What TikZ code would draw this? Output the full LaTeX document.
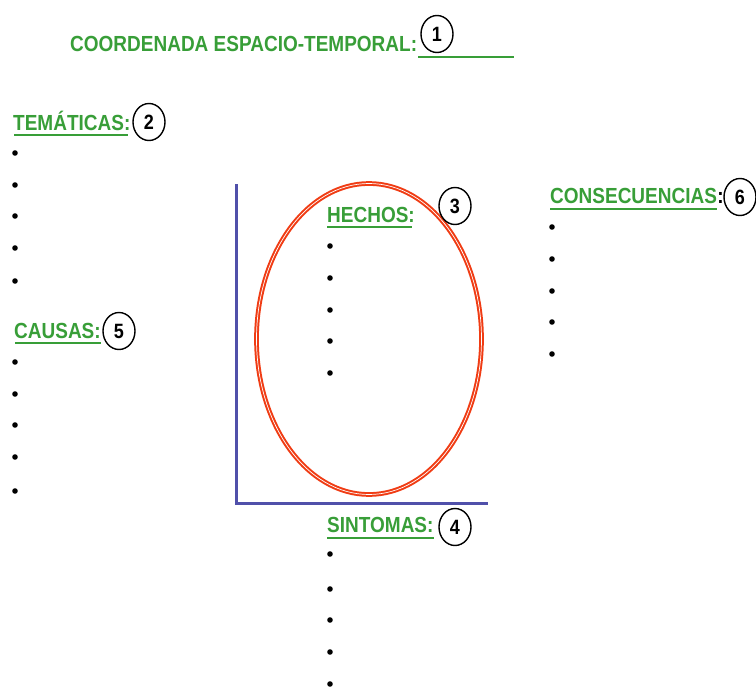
\documentclass[tikz,border=0pt]{standalone}
\usepackage{fontspec}
\setmainfont{Liberation Sans}
\usetikzlibrary{shapes.geometric}
\definecolor{tgreen}{RGB}{56,158,56}
\definecolor{axisblue}{RGB}{80,80,170}
\definecolor{ered}{RGB}{240,60,20}
\newcommand{\tallbox}[1]{\scalebox{1}[1.15]{#1}}
\begin{document}
\begin{tikzpicture}[x=1pt,y=-1pt,
 lbl/.style={font=\fontsize{19}{22}\selectfont\bfseries, text=tgreen, inner sep=0pt, anchor=base west},
 num/.style={draw, ellipse, line width=1.4pt, minimum width=32pt, minimum height=37pt, inner sep=0pt, font=\fontsize{18}{20}\selectfont\bfseries},
 uline/.style={tgreen, line width=2.2pt},
 bul/.style={fill=black}]
\useasboundingbox (0,0) rectangle (756,688);

% axes
\coordinate (ytop) at (236,184);
\coordinate (origin) at (236,503);
\coordinate (xend) at (488,503);
\draw[axisblue, line width=3pt] (ytop) -- (origin) -- (xend);

% ellipse
\draw[ered, line width=2pt, double=white, double distance=0.7pt] (369,339) ellipse [x radius=112.5pt, y radius=155.5pt];

% title
\node[lbl] (title) at (70,52) {\tallbox{COORDENADA ESPACIO-TEMPORAL:}};
\coordinate (fillL) at (418,57);
\coordinate (fillR) at (514,57);
\draw[uline] (fillL) -- (fillR);
\node[num] (n1) at (437,34) {\tallbox{1}};

% tematicas
\node[lbl] (tem) at (13,130) {\tallbox{TEMÁTICAS:}};
\draw[uline] ([yshift=-5pt,xshift=1pt]tem.base west) -- ([yshift=-5pt,xshift=-3pt]tem.base east);
\node[num] (n2) at (149,122) {\tallbox{2}};
\foreach \y in {153,185,216,248,281} \fill[bul] (15,\y) circle (2.8pt);

% causas
\node[lbl] (cau) at (14,338) {\tallbox{CAUSAS:}};
\draw[uline] ([yshift=-5pt,xshift=1pt]cau.base west) -- ([yshift=-5pt]cau.base east);
\node[num] (n5) at (119,331) {\tallbox{5}};
\foreach \y in {362,394,425,457,491} \fill[bul] (15,\y) circle (2.8pt);

% hechos
\node[lbl] (hec) at (327,222) {\tallbox{HECHOS:}};
\draw[uline] ([yshift=-5pt]hec.base west) -- ([yshift=-5pt,xshift=-3pt]hec.base east);
\node[num] (n3) at (455,206) {\tallbox{3}};
\foreach \y in {246,278,310,341,373} \fill[bul] (330,\y) circle (2.8pt);

% sintomas
\node[lbl] (sin) at (327,532) {\tallbox{SINTOMAS:}};
\draw[uline] ([yshift=-6pt]sin.base west) -- ([yshift=-6pt]sin.base east);
\node[num] (n4) at (455,527) {\tallbox{4}};
\foreach \y in {554,589,620,652,684} \fill[bul] (330,\y) circle (2.8pt);

% consecuencias
\node[lbl] (con) at (550,203) {\tallbox{CONSECUENCIAS}};
\node[lbl, text=black] (conc) at (con.base east) {\tallbox{:}};
\draw[uline] ([yshift=-6pt]con.base west) -- ([yshift=-6pt]con.base east);
\node[num] (n6) at (740,197) {\tallbox{6}};
\foreach \y in {227,259,291,322,354} \fill[bul] (552,\y) circle (2.8pt);
\end{tikzpicture}
\end{document}
